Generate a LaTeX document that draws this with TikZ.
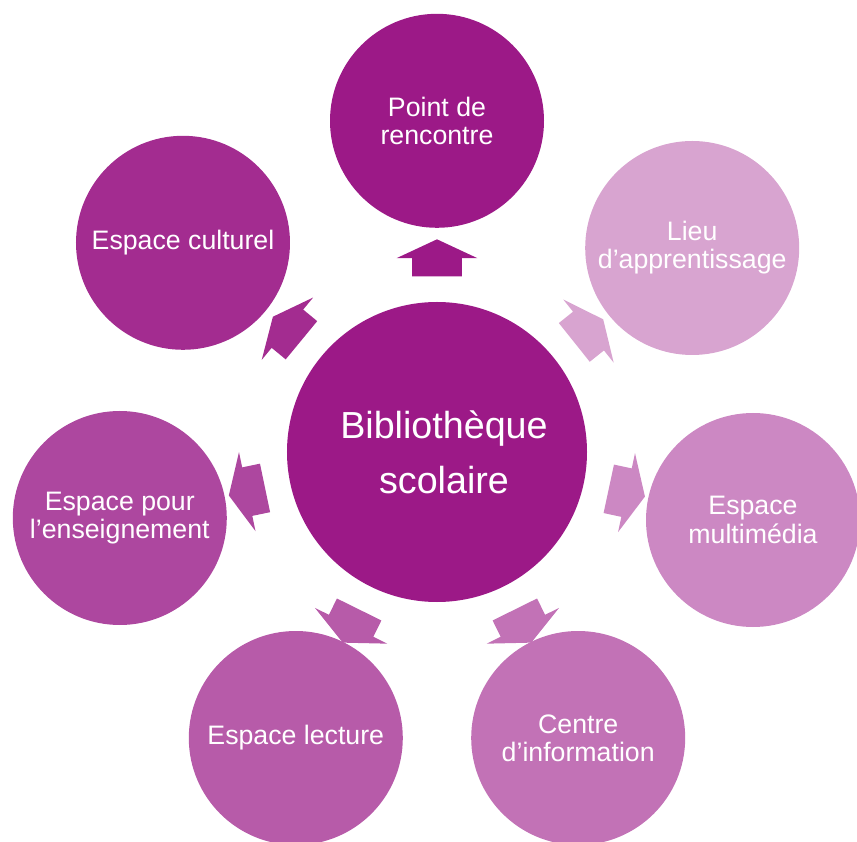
\documentclass[tikz,border=0pt]{standalone}
\usepackage{fontspec}
\setmainfont{Liberation Sans}
\usetikzlibrary{shapes.arrows}

\definecolor{plumA}{HTML}{9C1987}
\definecolor{plumB}{HTML}{A32C90}
\definecolor{plumC}{HTML}{AD479F}
\definecolor{plumD}{HTML}{B75BA9}
\definecolor{plumE}{HTML}{C272B6}
\definecolor{plumF}{HTML}{CC88C3}
\definecolor{plumG}{HTML}{D8A4D0}

\tikzset{
	bubble/.style={circle, fill=#1, text=white, minimum size=5.35cm, inner sep=0pt,
		align=center, font=\fontsize{19}{20}\selectfont},
	hubcircle/.style={circle, fill=plumA, text=white, minimum size=7.5cm, inner sep=0pt,
		align=center, font=\fontsize{26.8}{39}\selectfont},
	blockarrow/.style={single arrow, fill=#1, draw=none, inner xsep=0pt, inner ysep=0.6125cm,
		minimum height=0.925cm, single arrow head extend=0.39cm, single arrow tip angle=130}
}

\begin{document}
\begin{tikzpicture}
		\useasboundingbox (-10.925, -9.75) rectangle (10.5, 11.3);

		\node[hubcircle] (hub) at (0, 0)		{\hspace{0.35cm}Bibliothèque\\\hspace{0.35cm}scolaire};

		\node[bubble=plumA] (rencontre) at (0, 8.28)		{Point de\\rencontre};
		\node[bubble=plumG] (apprent) at (6.38, 5.10)		{Lieu\\d’apprentissage};
		\node[bubble=plumF] (multimedia) at (7.9, -1.7)		{Espace\\multimédia};
		\node[bubble=plumE] (info) at (3.53, -7.15)		{Centre\\d’information};
		\node[bubble=plumD] (lecture) at (-3.53, -7.15)		{Espace lecture};
		\node[bubble=plumC] (enseign) at (-7.93, -1.65)		{Espace pour\\l’enseignement};
		\node[bubble=plumB] (culturel) at (-6.35, 5.23)		{Espace culturel};

		\foreach \ang/\col/\name in {90/plumA/a1, 38.6/plumG/a2, -12.1/plumF/a3, -63.7/plumE/a4,
				-116.3/plumD/a5, -168.2/plumC/a6, 140.5/plumB/a7}
			\node[blockarrow=\col, rotate=\ang] (\name) at (\ang:4.71) {};
	\end{tikzpicture}
\end{document}
